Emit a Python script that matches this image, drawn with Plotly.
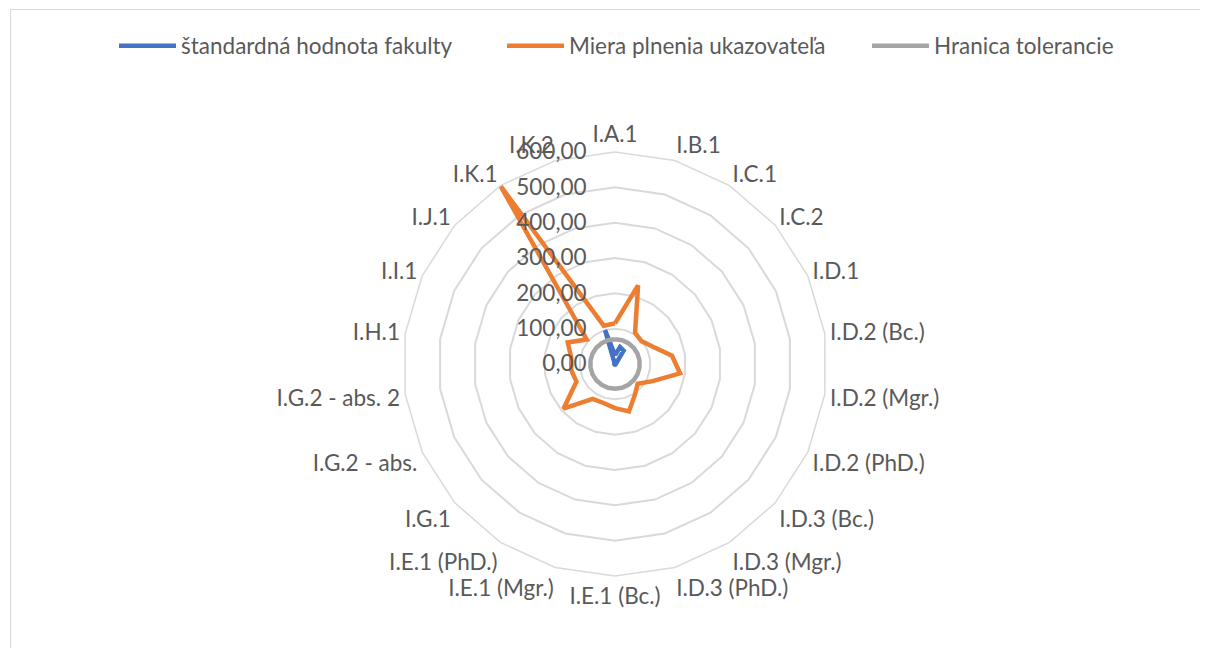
import plotly.graph_objects as go

categories = ["I.A.1", "I.B.1", "I.C.1", "I.C.2", "I.D.1", "I.D.2 (Bc.)", "I.D.2 (Mgr.)",
              "I.D.2 (PhD.)", "I.D.3 (Bc.)", "I.D.3 (Mgr.)", "I.D.3 (PhD.)", "I.E.1 (Bc.)",
              "I.E.1 (Mgr.)", "I.E.1 (PhD.)", "I.G.1", "I.G.2 - abs.", "I.G.2 - abs. 2",
              "I.H.1", "I.I.1", "I.J.1", "I.K.1", "I.K.2"]

standard_values = [25, 50, 45, 5, 2, 2, 2, 2, 2, 2, 2, 2, 2, 2, 2, 2, 2, 2, 2, 2, 2, 100]
fulfilment_values = [115, 232, 105, 99, 118, 163, 186, 117, 85, 104, 140, 125, 115, 117,
                     193, 120, 125, 125, 147, 106, 600, 113]
tolerance_values = [70] * 22

tick_values = [0, 100, 200, 300, 400, 500, 600]
tick_labels = ["0,00", "100,00", "200,00", "300,00", "400,00", "500,00", "600,00"]

series_names = ["štandardná hodnota fakulty", "Miera plnenia ukazovateľa", "Hranica tolerancie"]
series_colors = ["#4472C4", "#ED7D31", "#A5A5A5"]
series_values = [standard_values, fulfilment_values, tolerance_values]

FONT = "Lato"
FSIZE = 22.5
TEXT = "#595959"
GRID = "#D9D9D9"

W, H = 1208, 648
OFF = 8  # page body margin offset
cx, cy, R = 615 - OFF, 364 - OFF, 212

legend_ids = ["legend", "legend2", "legend3"]
legend_text_x = [182, 570, 935]  # where each legend text starts (page px)
ITEMW = 57

fig = go.Figure()
for name, color, vals, lid in zip(series_names, series_colors, series_values, legend_ids):
    fig.add_trace(go.Scatterpolar(
        r=list(vals) + [vals[0]],
        theta=categories + [categories[0]],
        mode="lines",
        name=name,
        legend=lid,
        line=dict(color=color, width=4.5),
    ))

legend_layout = {}
for lid, tx in zip(legend_ids, legend_text_x):
    legend_layout[lid] = dict(
        orientation="h", x=(tx - (ITEMW + 11) - OFF) / W, xanchor="left",
        y=1 - (46 - OFF) / H, yanchor="middle",
        itemwidth=ITEMW,
        font=dict(family=FONT, size=FSIZE, color=TEXT),
        bgcolor="rgba(0,0,0,0)",
    )

fig.update_layout(
    width=W, height=H,
    margin=dict(l=0, r=0, t=0, b=0),
    paper_bgcolor="white",
    plot_bgcolor="white",
    font=dict(family=FONT, color=TEXT, size=FSIZE),
    showlegend=True,
    polar=dict(
        domain=dict(x=[(cx - R) / W, (cx + R) / W], y=[(H - cy - R) / H, (H - cy + R) / H]),
        bgcolor="white",
        gridshape="linear",
        angularaxis=dict(
            rotation=90, direction="clockwise",
            showgrid=False, showline=True, linecolor=GRID, linewidth=1.5,
            ticks="", tickfont=dict(family=FONT, size=FSIZE, color=TEXT),
            categoryorder="array", categoryarray=categories,
        ),
        radialaxis=dict(
            range=[0, 600], tickvals=tick_values, ticktext=tick_labels,
            angle=90, side="counterclockwise", tickangle=90,
            showline=False, gridcolor=GRID, gridwidth=1.5,
            ticks="outside", ticklen=20, tickcolor="rgba(0,0,0,0)",
            tickfont=dict(family=FONT, size=FSIZE, color=TEXT),
        ),
    ),
    shapes=[
        dict(type="line", xref="paper", yref="paper", x0=(10 - OFF) / W, x1=1,
             y0=1 - (9.5 - OFF) / H, y1=1 - (9.5 - OFF) / H, line=dict(color=GRID, width=1)),
        dict(type="line", xref="paper", yref="paper", x0=(10.5 - OFF) / W, x1=(10.5 - OFF) / W,
             y0=0, y1=1 - (9.5 - OFF) / H, line=dict(color=GRID, width=1)),
    ],
    **legend_layout,
)

fig.write_html("out.html")
